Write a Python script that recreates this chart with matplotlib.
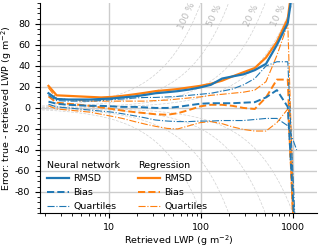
import numpy as np
import matplotlib
matplotlib.use("Agg")
import matplotlib.pyplot as plt
from matplotlib.ticker import AutoMinorLocator, FuncFormatter, LogLocator

plt.rcParams['font.size'] = 6.8
plt.rcParams['axes.unicode_minus'] = False

# retrieved LWP bins (g m^-2)
lwp = [2.2, 2.7, 3.6, 4.7, 6.2, 8.2, 10.8, 14, 19, 25, 32, 43, 56, 74, 98,
       128, 170, 220, 290, 385, 510, 670, 880, 1100]

# neural network
nn_rmsd = [14, 8.5, 8, 8, 8, 8.5, 9, 10, 11, 12.5, 14, 15, 16, 17.5, 19.5,
           22, 28, 30, 32, 36, 42, 60, 81, 140]
nn_bias = [6, 4, 3, 2.5, 2, 2, 1.5, 1, 1, 0.5, 0, 0, 1, 2.5, 4,
           4.5, 4.5, 4.5, 5, 5.5, 10, 17, 1, -150]
nn_q75 = [12, 7, 6.5, 6.5, 6.5, 7, 8, 8.5, 9.5, 10, 10, 10.5, 11, 12, 13,
          14, 16, 18, 22, 28, 40, 44, 44, -141]
nn_q25 = [3.5, 1, 0, -1, -2, -3, -4, -5.5, -7.5, -9.5, -11.5, -12.5, -13, -13, -12.5,
          -12.5, -12, -12, -12, -11, -10, -10, -17, -40]

# regression
reg_rmsd = [21, 12, 11.5, 11, 10.5, 10, 10.5, 11.5, 13, 14.5, 16, 17, 18, 19.5, 21,
            23, 26, 30, 34, 38, 48, 63, 85, 150]
reg_bias = [11, 5, 4, 3, 2, 0.5, -1, -2.5, -4, -5, -6, -6.5, -5, -2, 1.5,
            3, 3, 2, 0, -1, 10, 27, 27, -200]
reg_q75 = [19, 9, 8, 7, 6.5, 6.5, 6.5, 6.5, 6.5, 6.5, 7, 7.5, 8.5, 9.5, 10.5,
           12, 13, 14, 15, 17, 25, 50, 80, -190]
reg_q25 = [2, -1, -2, -3, -4, -6, -8, -10, -13, -15.5, -17.5, -19.5, -20, -17, -14,
           -13, -15, -18, -20.5, -22, -22, -14, -1, -180]

# relative error guide lines
pcts = [100, 50, 20, 10]

c_nn = "#1f77b4"
c_reg = "#ff7f0e"

fig = plt.figure(figsize=(3.2, 2.47), dpi=100)
ax = fig.add_axes([0.125, 0.138, 0.865, 0.85])

xx = np.logspace(0, 4, 400)
for p in pcts:
    f = p / 100
    ax.plot(xx, f * xx, color="0.82", lw=0.5, ls=(0, (4, 2)), zorder=1)
    ax.plot(xx, -f * xx, color="0.82", lw=0.5, ls=(0, (4, 2)), zorder=1)
    ax.text(0.8 * 88 / f, 88, f"{p} %", rotation=65, color="0.72",
            ha="center", va="center", fontsize=6.5)

l1, = ax.plot(lwp, nn_rmsd, color=c_nn, lw=1.6, zorder=4)
l2, = ax.plot(lwp, nn_bias, color=c_nn, lw=1.4, ls="--", zorder=4)
l3, = ax.plot(lwp, nn_q75, color=c_nn, lw=0.8, ls="-.", zorder=4)
ax.plot(lwp, nn_q25, color=c_nn, lw=0.8, ls="-.", zorder=4)

r1, = ax.plot(lwp, reg_rmsd, color=c_reg, lw=1.6, zorder=3)
r2, = ax.plot(lwp, reg_bias, color=c_reg, lw=1.4, ls="--", zorder=3)
r3, = ax.plot(lwp, reg_q75, color=c_reg, lw=0.8, ls="-.", zorder=3)
ax.plot(lwp, reg_q25, color=c_reg, lw=0.8, ls="-.", zorder=3)

ax.set_xscale("log")
ax.set_xlim(10 ** 0.25, 10 ** 3.26)
ax.set_ylim(-100, 100)
ax.set_yticks([-80, -60, -40, -20, 0, 20, 40, 60, 80])
ax.yaxis.set_minor_locator(AutoMinorLocator(4))
ax.xaxis.set_major_locator(LogLocator(base=10))
ax.xaxis.set_major_formatter(FuncFormatter(lambda v, pos: f"{v:g}"))
ax.grid(True, which="major", color="0.8", lw=1, zorder=0)
ax.set_axisbelow(True)
for s in ["top", "right"]:
    ax.spines[s].set_visible(False)
ax.tick_params(which="major", length=3.5, width=0.8)
ax.tick_params(which="minor", length=2, width=0.6)

ax.set_xlabel("Retrieved LWP (g m$^{-2}$)", labelpad=1)
ax.set_ylabel("Error: true - retrieved LWP (g m$^{-2}$)", labelpad=1)

kw = dict(frameon=False, loc="lower left", alignment="left", handlelength=2.3,
          handletextpad=0.5, labelspacing=0.5, borderpad=0, borderaxespad=0,
          fontsize=6.8, title_fontsize=6.8)
leg1 = ax.legend([l1, l2, l3], ["RMSD", "Bias", "Quartiles"], title="Neural network",
                 bbox_to_anchor=(0.025, 0.01), **kw)
ax.add_artist(leg1)
ax.legend([r1, r2, r3], ["RMSD", "Bias", "Quartiles"], title="Regression",
          bbox_to_anchor=(0.354, 0.01), **kw)

fig.savefig("out.png", dpi=100)
